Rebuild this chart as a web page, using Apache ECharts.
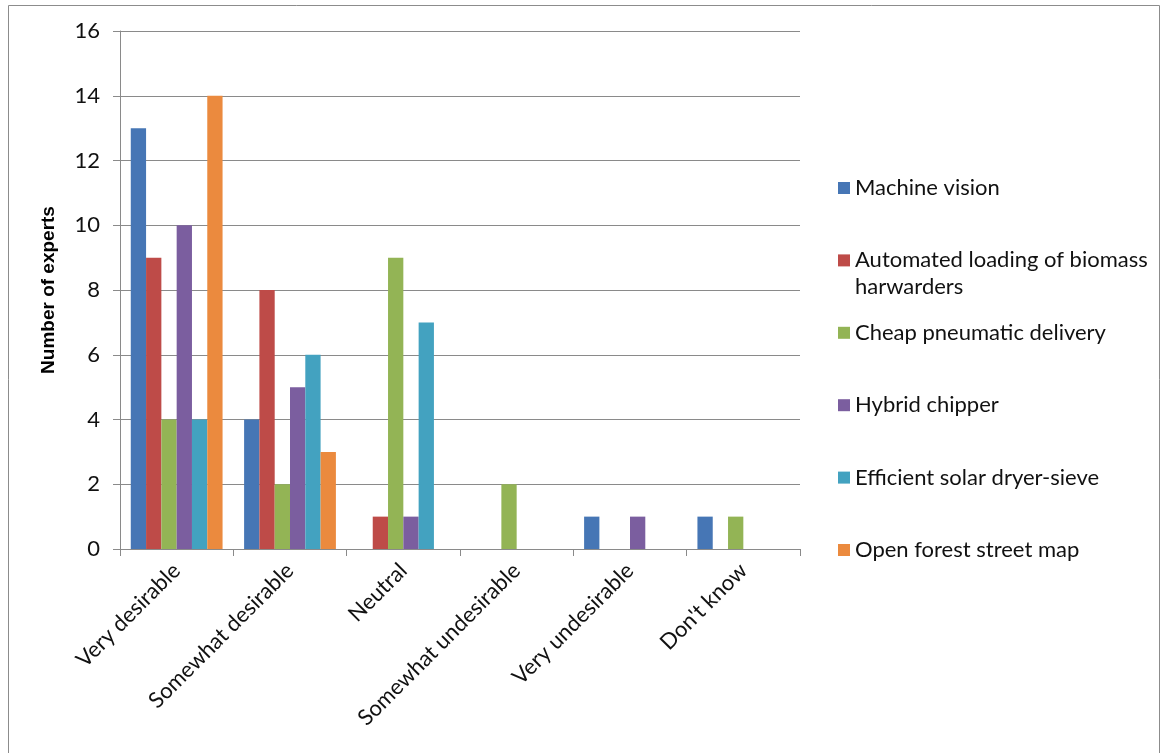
<!DOCTYPE html>
<html>
<head>
<meta charset="utf-8">
<title>Number of experts</title>
<script src="https://cdn.jsdelivr.net/npm/echarts@6/dist/echarts.min.js"></script>
<style>
html, body { margin: 0; padding: 0; background: #fff; }
#main { width: 1164px; height: 753px; }
</style>
</head>
<body>
<div id="main"></div>
<script>
var categories = ['Very desirable', 'Somewhat desirable', 'Neutral', 'Somewhat undesirable', 'Very undesirable', "Don't know"];
var seriesNames = ['Machine vision', 'Automated loading of biomass harwarders', 'Cheap pneumatic delivery', 'Hybrid chipper', 'Efficient solar dryer-sieve', 'Open forest street map'];
var machineVision = [13, 4, 0, 0, 1, 1];
var automatedLoading = [9, 8, 1, 0, 0, 0];
var cheapPneumatic = [4, 2, 9, 2, 0, 1];
var hybridChipper = [10, 5, 1, 0, 1, 0];
var solarDryer = [4, 6, 7, 0, 0, 0];
var forestMap = [14, 3, 0, 0, 0, 0];
var yTicks = [0, 16, 2]; // min, max, interval

var colors = ['#4676B5', '#BE4B48', '#93B455', '#7B5E9F', '#43A2C0', '#EB8A3E'];

var mychart = {

	legendList : function(names) {
		var list = [];
		for (var i = 0; i < names.length; i++) {
			var center = 188 + i * 72.4;
			var top = center - 13.5;
			if (i == 1) {
				// 3 lines (first empty) so the icon sits on the first real line
				top = center - 40.5;
			}
			list.push({
				data : [ names[i] ],
				left : 838,
				top : top,
				padding : 0,
				orient : 'vertical',
				icon : 'rect',
				itemWidth : 12,
				itemHeight : 12,
				itemGap : 5,
				selectedMode : false,
				formatter : function(n) {
					return n == 'Automated loading of biomass harwarders' ? '\nAutomated loading of biomass\nharwarders' : n;
				},
				textStyle : {
					fontFamily : 'Lato',
					fontSize : 22,
					color : '#111',
					lineHeight : 27
				}
			});
		}
		return list;
	},

	bars : function(divId) {
		var myChart = echarts.init(document.getElementById(divId));
		var values = [ machineVision, automatedLoading, cheapPneumatic, hybridChipper, solarDryer, forestMap ];
		var series = [];
		for (var i = 0; i < seriesNames.length; i++) {
			series.push({
				name : seriesNames[i],
				type : 'bar',
				data : values[i],
				barGap : '0%',
				barCategoryGap : '19%',
				itemStyle : {
					color : colors[i]
				}
			});
		}
		var option = {
			animation : false,
			color : colors,
			grid : {
				left : 120,
				right : 364,
				top : 31,
				bottom : 204
			},
			legend : mychart.legendList(seriesNames),
			graphic : [ {
				type : 'rect',
				shape : { x : 8.5, y : 5.5, width : 1151, height : 780 },
				style : { fill : 'none', stroke : '#8c8c8c', lineWidth : 1 },
				silent : true
			} ],
			xAxis : [ {
				type : 'category',
				data : categories,
				axisLine : { lineStyle : { color : '#8a8a8a', width : 1 } },
				axisTick : { show : true, length : 7, lineStyle : { color : '#8a8a8a' } },
				axisLabel : {
					rotate : 45,
					margin : 18,
					interval : 0,
					fontFamily : 'Lato',
					fontSize : 22,
					color : '#111'
				},
				splitLine : { show : false }
			} ],
			yAxis : [ {
				type : 'value',
				min : yTicks[0],
				max : yTicks[1],
				interval : yTicks[2],
				name : 'Number of experts',
				nameLocation : 'middle',
				nameGap : 62,
				nameTextStyle : {
					fontFamily : 'Liberation Sans',
					fontWeight : 'bold',
					fontSize : 19,
					color : '#000'
				},
				axisLine : { show : true, lineStyle : { color : '#8a8a8a', width : 1 } },
				axisTick : { show : true, length : 7, lineStyle : { color : '#8a8a8a' } },
				axisLabel : {
					margin : 20,
					fontFamily : 'Lato',
					fontSize : 22,
					color : '#111'
				},
				splitLine : { show : true, lineStyle : { color : '#8a8a8a', width : 1 } }
			} ],
			series : series
		};
		myChart.setOption(option);
	}
};

mychart.bars('main');
</script>
</body>
</html>
